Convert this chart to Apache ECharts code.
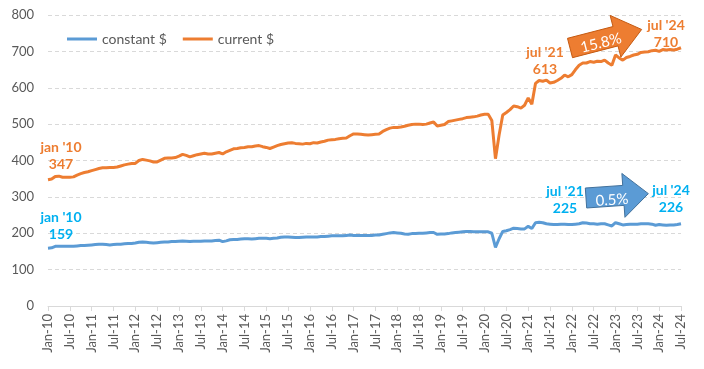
<!DOCTYPE html>
<html>
<head>
<meta charset="utf-8">
<script src="https://cdn.jsdelivr.net/npm/echarts@6/dist/echarts.min.js"></script>
<style>
html,body{margin:0;padding:0;background:#fff;}
#chart{width:704px;height:369px;}
</style>
</head>
<body>
<div id="chart"></div>
<script>
// ---- data ----
const monthNames = ['Jan','Feb','Mar','Apr','May','Jun','Jul','Aug','Sep','Oct','Nov','Dec'];
const firstYear = 2010, lastYear = 2024, lastMonth = 7; // Jul-24
const categories = [];
for (let y = firstYear; y <= lastYear; y++) {
  for (let m = 0; m < 12; m++) {
    if (y === lastYear && m >= lastMonth) break;
    categories.push(monthNames[m] + '-' + String(y).slice(2));
  }
}

const currentDollars = [
  347,349,356,357,354,354,354,355,360,364,367,369, // 2010
  372,375,378,380,380,381,381,382,385,388,390,392, // 2011
  392,400,403,401,399,396,396,401,406,407,407,408, // 2012
  412,417,414,410,413,416,418,420,418,418,420,422, // 2013
  418,424,428,432,433,435,436,438,438,440,441,438, // 2014
  436,433,437,441,444,446,448,449,447,446,445,447, // 2015
  446,449,448,451,453,456,457,458,460,461,462,468, // 2016
  473,473,472,471,470,471,472,473,480,485,489,491, // 2017
  491,492,494,497,499,500,500,499,500,503,506,495, // 2018
  497,499,507,509,511,513,515,518,519,520,522,525, // 2019
  527,527,510,405,470,525,532,540,550,548,544,552, // 2020
  572,555,612,620,618,621,613,615,620,626,635,630, // 2021
  636,650,662,668,668,672,670,673,672,676,668,662, // 2022
  690,682,676,683,686,690,692,697,698,699,702,703, // 2023
  700,705,704,705,704,706,710                      // 2024
];

const constantDollars = [
  159,160,164,164,164,164,164,164,165,166,166,167, // 2010
  168,169,170,170,169,168,169,170,170,171,172,172, // 2011
  173,175,176,175,174,173,174,175,176,176,177,177, // 2012
  178,179,178,177,178,178,178,179,179,179,180,181, // 2013
  177,179,182,183,183,184,185,185,184,185,186,186, // 2014
  186,185,186,187,189,190,190,189,188,188,189,190, // 2015
  190,190,190,191,191,192,193,193,193,193,194,195, // 2016
  194,194,194,194,194,194,195,195,197,199,201,202, // 2017
  201,200,198,197,199,199,200,200,201,202,202,197, // 2018
  198,198,199,201,202,203,204,205,205,204,204,204, // 2019
  204,204,200,161,185,205,207,210,214,213,212,212, // 2020
  219,213,229,230,229,226,225,224,224,225,225,224, // 2021
  224,225,226,229,228,226,226,225,226,226,223,220, // 2022
  229,226,223,224,225,225,225,226,226,226,225,222, // 2023
  224,223,222,223,223,224,226                      // 2024
];

const seriesNames = ['constant $', 'current $'];
const yTicks = {min: 0, max: 800, interval: 100};
const changeLabels = {current: '15.8%', constant: '0.5%'};
const idxJan10 = categories.indexOf('Jan-10');
const idxJul21 = categories.indexOf('Jul-21');
const idxJul24 = categories.indexOf('Jul-24');

// ---- styles ----
const FONT = 'Lato, "Open Sans", sans-serif';
const BLUE = '#5B9BD5', ORANGE = '#ED7D31', LBLUE = '#00B0F0';

function annot(idx, arr, text, offset, color) {
  return {
    coord: [categories[idx], arr[idx]],
    label: {
      show: true, formatter: text, offset: offset, color: color,
      fontFamily: FONT, fontSize: 14, fontWeight: 'bold', lineHeight: 17,
      align: 'center', verticalAlign: 'middle'
    }
  };
}

function arrow(cx, cy, angDeg, len, bh, hh, hl) {
  const a = angDeg * Math.PI / 180;
  const dx = Math.cos(a), dy = Math.sin(a);
  const nx = -dy, ny = dx;
  const bx = cx + dx * (len - hl), by = cy + dy * (len - hl);
  return [
    [cx - nx * bh, cy - ny * bh],
    [bx - nx * bh, by - ny * bh],
    [bx - nx * hh, by - ny * hh],
    [cx + dx * len, cy + dy * len],
    [bx + nx * hh, by + ny * hh],
    [bx + nx * bh, by + ny * bh],
    [cx + nx * bh, cy + ny * bh]
  ];
}

const chart = echarts.init(document.getElementById('chart'));
chart.setOption({
  animation: false,
  backgroundColor: '#fff',
  textStyle: {fontFamily: FONT},
  grid: {left: 48, right: 23, top: 15, bottom: 63},
  legend: {
    left: 62, top: 27, itemWidth: 30, itemHeight: 3, itemGap: 16,
    icon: 'rect',
    textStyle: {fontFamily: FONT, fontSize: 14, color: '#595959'},
    data: seriesNames
  },
  xAxis: {
    type: 'category',
    data: categories,
    boundaryGap: false,
    axisLine: {lineStyle: {color: '#D9D9D9', width: 1}},
    axisTick: {show: true, interval: 5, length: 5, lineStyle: {color: '#D9D9D9'}},
    axisLabel: {interval: 5, rotate: 90, fontSize: 13, color: '#595959', fontFamily: FONT, margin: 8},
    splitLine: {show: false}
  },
  yAxis: {
    type: 'value',
    min: yTicks.min, max: yTicks.max, interval: yTicks.interval,
    axisLine: {show: false},
    axisTick: {show: false},
    axisLabel: {fontSize: 13, color: '#595959', fontFamily: FONT, margin: 14},
    splitLine: {lineStyle: {color: '#D9D9D9', type: [4, 3], width: 1}}
  },
  series: [
    {
      name: seriesNames[0], type: 'line', data: constantDollars,
      symbol: 'none', smooth: false,
      lineStyle: {color: BLUE, width: 3}, itemStyle: {color: BLUE},
      markPoint: {
        symbol: 'circle', symbolSize: 0, silent: true,
        data: [
          annot(idxJan10, constantDollars, "jan '10\n" + constantDollars[idxJan10], [13, -22], LBLUE),
          annot(idxJul21, constantDollars, "jul '21\n" + constantDollars[idxJul21], [15, -24], LBLUE),
          annot(idxJul24, constantDollars, "jul '24\n" + constantDollars[idxJul24], [-10, -25], LBLUE)
        ]
      }
    },
    {
      name: seriesNames[1], type: 'line', data: currentDollars,
      symbol: 'none', smooth: false,
      lineStyle: {color: ORANGE, width: 3}, itemStyle: {color: ORANGE},
      markPoint: {
        symbol: 'circle', symbolSize: 0, silent: true,
        data: [
          annot(idxJan10, currentDollars, "jan '10\n" + currentDollars[idxJan10], [13, -24], ORANGE),
          annot(idxJul21, currentDollars, "jul '21\n" + currentDollars[idxJul21], [-5, -22], ORANGE),
          annot(idxJul24, currentDollars, "jul '24\n" + currentDollars[idxJul24], [-15, -14], ORANGE)
        ]
      }
    }
  ],
  graphic: [
    {type: 'polygon', z: 100, shape: {points: arrow(570, 48, -14.5, 74, 10, 21.5, 27)},
     style: {fill: ORANGE, stroke: '#C55A11', lineWidth: 1}},
    {type: 'text', z: 101, x: 601, y: 43, rotation: 14 * Math.PI / 180,
     style: {text: changeLabels.current, fill: '#fff', fontSize: 15, fontFamily: FONT, align: 'center', verticalAlign: 'middle'}},
    {type: 'polygon', z: 100, shape: {points: arrow(586, 198, -4, 62.5, 10, 22, 25)},
     style: {fill: BLUE, stroke: '#41719C', lineWidth: 1}},
    {type: 'text', z: 101, x: 612, y: 200, rotation: 4 * Math.PI / 180,
     style: {text: changeLabels.constant, fill: '#fff', fontSize: 15, fontFamily: FONT, align: 'center', verticalAlign: 'middle'}}
  ]
});
</script>
</body>
</html>
